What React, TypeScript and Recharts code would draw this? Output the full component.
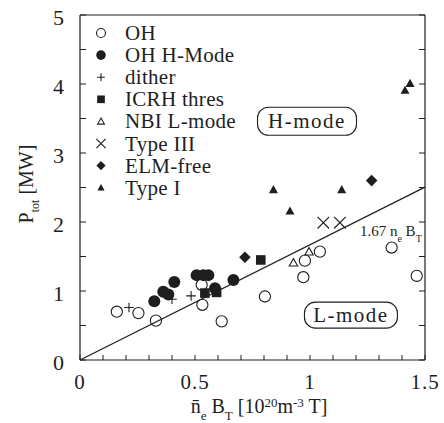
import { ScatterChart, Scatter, XAxis, YAxis, ReferenceLine, ReferenceDot, Legend } from 'recharts';

const FONT = 'Liberation Serif, Times New Roman, Times, serif';
const INK = '#1e1e1e';

// axis ticks
const xTicks = [0, 0.1, 0.2, 0.3, 0.4, 0.5, 0.6, 0.7, 0.8, 0.9, 1, 1.1, 1.2, 1.3, 1.4, 1.5];
const xTickLabels = ['0', '0.5', '1', '1.5'];
const yTicks = [0, 0.5, 1, 1.5, 2, 2.5, 3, 3.5, 4, 4.5, 5];
const yTickLabels = ['0', '1', '2', '3', '4', '5'];

// measured points [n_e B_T, P_tot]
const ohPts = [
  [0.16, 0.7], [0.254, 0.68], [0.33, 0.57], [0.532, 0.8], [0.529, 1.09], [0.616, 0.56],
  [0.804, 0.92], [0.971, 1.2], [0.978, 1.44], [1.043, 1.57], [1.355, 1.63], [1.464, 1.22],
];
const ohHModePts = [
  [0.323, 0.85], [0.362, 0.99], [0.384, 0.95], [0.41, 1.13], [0.507, 1.23],
  [0.536, 1.23], [0.558, 1.23], [0.587, 1.04], [0.667, 1.16],
];
const ditherPts = [[0.213, 0.76], [0.4, 0.88], [0.483, 0.93]];
const icrhPts = [[0.543, 0.97], [0.594, 0.98], [0.786, 1.45]];
const nbiPts = [[0.928, 1.41], [0.996, 1.57]];
const type3Pts = [[1.058, 1.99], [1.13, 1.99]];
const elmFreePts = [[0.717, 1.49], [1.268, 2.6]];
const type1Pts = [[0.841, 2.47], [0.913, 2.16], [1.138, 2.47], [1.413, 3.91], [1.435, 4.01]];

// scaling law P = 1.67 n_e B_T
const fitSlope = 1.67;
const fitRange = [0, 1.5];

// annotation anchors (data coords)
const hModePos = [0.987, 3.46];
const lModePos = [1.178, 0.65];
const fitLabelPos = [1.217, 1.8];

type Kind = 'openCircle' | 'dot' | 'plus' | 'square' | 'openTri' | 'cross' | 'diamond' | 'tri';

const series: { name: string; kind: Kind; pts: number[][] }[] = [
  { name: 'OH', kind: 'openCircle', pts: ohPts },
  { name: 'OH H-Mode', kind: 'dot', pts: ohHModePts },
  { name: 'dither', kind: 'plus', pts: ditherPts },
  { name: 'ICRH thres', kind: 'square', pts: icrhPts },
  { name: 'NBI L-mode', kind: 'openTri', pts: nbiPts },
  { name: 'Type III', kind: 'cross', pts: type3Pts },
  { name: 'ELM-free', kind: 'diamond', pts: elmFreePts },
  { name: 'Type I', kind: 'tri', pts: type1Pts },
];

function marker(kind: Kind, cx: number, cy: number, s = 1) {
  const sw = 1.1;
  switch (kind) {
    case 'openCircle':
      return <circle cx={cx} cy={cy} r={5.6 * s} fill="none" stroke={INK} strokeWidth={sw} />;
    case 'dot':
      return <circle cx={cx} cy={cy} r={6 * s} fill={INK} />;
    case 'plus': {
      const h = 4.8 * s;
      return (
        <path d={`M${cx - h},${cy}H${cx + h}M${cx},${cy - h}V${cy + h}`} stroke={INK} strokeWidth={sw} fill="none" />
      );
    }
    case 'square': {
      const h = 4.8 * s;
      return <rect x={cx - h} y={cy - h} width={2 * h} height={2 * h} fill={INK} />;
    }
    case 'openTri': {
      const h = 4.2 * s;
      return (
        <path d={`M${cx},${cy - h}L${cx + h},${cy + h * 0.8}L${cx - h},${cy + h * 0.8}Z`} fill="none" stroke={INK} strokeWidth={sw} />
      );
    }
    case 'cross': {
      const h = 5.8 * s;
      return (
        <path d={`M${cx - h},${cy - h}L${cx + h},${cy + h}M${cx + h},${cy - h}L${cx - h},${cy + h}`} stroke={INK} strokeWidth={sw} fill="none" />
      );
    }
    case 'diamond': {
      const h = 5.8 * s;
      return <path d={`M${cx},${cy - h}L${cx + h},${cy}L${cx},${cy + h}L${cx - h},${cy}Z`} fill={INK} />;
    }
    case 'tri': {
      const h = 4.5 * s;
      return <path d={`M${cx},${cy - h}L${cx + h},${cy + h * 0.8}L${cx - h},${cy + h * 0.8}Z`} fill={INK} />;
    }
  }
  return null;
}

const txt = { fill: INK, style: { fontFamily: FONT } };

const BottomTick = (props: any) => {
  const { x, y, payload } = props;
  const label = String(payload.value);
  return (
    <g>
      <line x1={x} y1={y} x2={x} y2={y - 5} stroke={INK} strokeWidth={1} />
      {xTickLabels.includes(label) && (
        <text x={x} y={y + 29} textAnchor="middle" fontSize={21} letterSpacing={1} {...txt}>
          {label}
        </text>
      )}
    </g>
  );
};

const TopTick = (props: any) => {
  const { x, y } = props;
  return <line x1={x} y1={y} x2={x} y2={y + 5} stroke={INK} strokeWidth={1} />;
};

const LeftTick = (props: any) => {
  const { x, y, payload } = props;
  const label = String(payload.value);
  return (
    <g>
      <line x1={x} y1={y} x2={x + 6} y2={y} stroke={INK} strokeWidth={1} />
      {yTickLabels.includes(label) && (
        <text x={x - 16} y={y + 10} textAnchor="end" fontSize={22} {...txt}>
          {label}
        </text>
      )}
    </g>
  );
};

const RightTick = (props: any) => {
  const { x, y } = props;
  return <line x1={x} y1={y} x2={x - 6} y2={y} stroke={INK} strokeWidth={1} />;
};

const XTitle = () => (
  <text x={259} y={413} textAnchor="middle" fontSize={20} {...txt}>
    <tspan>n̄</tspan>
    <tspan fontSize={13} dy={7}>e</tspan>
    <tspan dy={-7}> B</tspan>
    <tspan fontSize={13} dy={7}>T</tspan>
    <tspan dy={-7}> [10</tspan>
    <tspan fontSize={13} dy={-6}>20</tspan>
    <tspan dy={6}>m</tspan>
    <tspan fontSize={13} dy={-6}>-3</tspan>
    <tspan dy={6}> T]</tspan>
  </text>
);

const YTitle = () => (
  <text x={0} y={0} transform="translate(33,184) rotate(-90)" textAnchor="middle" fontSize={20} {...txt}>
    <tspan>P</tspan>
    <tspan fontSize={12} dy={6}>tot</tspan>
    <tspan dy={-6}> [MW]</tspan>
  </text>
);

const modeBox = (label: string, w: number, h: number) => (p: any) => (
  <g>
    <rect x={p.cx - w / 2} y={p.cy - h / 2} width={w} height={h} rx={11} fill="#fff" stroke={INK} strokeWidth={1.1} />
    <text x={p.cx} y={p.cy + 7} textAnchor="middle" fontSize={21} letterSpacing={1.5} {...txt}>
      {label}
    </text>
  </g>
);

const fitLabel = (p: any) => (
  <text x={p.cx} y={p.cy} fontSize={15} {...txt}>
    <tspan>1.67 n</tspan>
    <tspan fontSize={10} dy={6}>e</tspan>
    <tspan dy={-6}> B</tspan>
    <tspan fontSize={10} dy={6}>T</tspan>
  </text>
);

const renderLegend = () => (
  <svg width={160} height={185}>
    {series.map((s, i) => {
      const cy = 13 + 22.1 * i;
      return (
        <g key={s.name}>
          {marker(s.kind, 11, cy, 0.8)}
          <text x={35} y={cy + 7} fontSize={21} letterSpacing={0.3} {...txt}>
            {s.name}
          </text>
        </g>
      );
    })}
  </svg>
);

export default function App() {
  const fitData = fitRange.map((x) => ({ x, y: fitSlope * x }));
  return (
    <div style={{ position: 'absolute', left: 0, top: 0, background: '#fff', fontFamily: FONT }}>
      <ScatterChart width={444} height={423} margin={{ top: 0, right: 0, bottom: 0, left: 0 }} style={{ fontFamily: FONT }}>
        <XAxis
          dataKey="x"
          type="number"
          domain={[0, 1.5]}
          ticks={xTicks}
          interval={0}
          allowDataOverflow
          height={63}
          tickLine={false}
          tickSize={0}
          tickMargin={0}
          tick={BottomTick}
          axisLine={{ stroke: INK, strokeWidth: 1.2 }}
          label={<XTitle />}
        />
        <XAxis
          xAxisId="top"
          orientation="top"
          type="number"
          domain={[0, 1.5]}
          ticks={xTicks}
          interval={0}
          allowDataOverflow
          height={15}
          tickLine={false}
          tickSize={0}
          tickMargin={0}
          tick={TopTick}
          axisLine={{ stroke: INK, strokeWidth: 1.2 }}
        />
        <YAxis
          dataKey="y"
          type="number"
          domain={[0, 5]}
          ticks={yTicks}
          interval={0}
          allowDataOverflow
          width={80}
          tickLine={false}
          tickSize={0}
          tickMargin={0}
          tick={LeftTick}
          axisLine={{ stroke: INK, strokeWidth: 1.2 }}
          label={<YTitle />}
        />
        <YAxis
          yAxisId="right"
          orientation="right"
          type="number"
          domain={[0, 5]}
          ticks={yTicks}
          interval={0}
          allowDataOverflow
          width={19}
          tickLine={false}
          tickSize={0}
          tickMargin={0}
          tick={RightTick}
          axisLine={{ stroke: INK, strokeWidth: 1.2 }}
        />
        <ReferenceLine segment={[fitData[0], fitData[1]]} stroke={INK} strokeWidth={1.2} />
        <ReferenceDot x={hModePos[0]} y={hModePos[1]} shape={modeBox('H-mode', 99, 28)} />
        <ReferenceDot x={lModePos[0]} y={lModePos[1]} shape={modeBox('L-mode', 93, 26)} />
        <ReferenceDot x={fitLabelPos[0]} y={fitLabelPos[1]} shape={fitLabel} />
        {series.map((s) => (
          <Scatter
            key={s.name}
            name={s.name}
            data={s.pts.map(([x, y]) => ({ x, y }))}
            isAnimationActive={false}
            shape={(p: any) => marker(s.kind, p.cx, p.cy)}
          />
        ))}
        <Legend
          layout="vertical"
          align="center"
          verticalAlign="middle"
          content={renderLegend}
          wrapperStyle={{ left: 90, top: 20, width: 160, height: 185 }}
        />
      </ScatterChart>
    </div>
  );
}
